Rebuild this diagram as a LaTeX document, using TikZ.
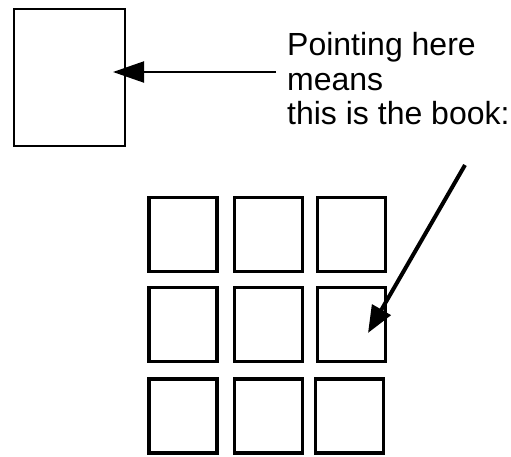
\documentclass[tikz,border=0pt]{standalone}
\usepackage{fontspec}
\setmainfont{Liberation Sans}
\usetikzlibrary{arrows.meta}
\begin{document}
\begin{tikzpicture}[x=1pt, y=-1pt,
  bookbox/.style={draw, line width=2.7pt, minimum width=111pt, minimum height=137pt,
    inner sep=0pt, outer sep=0pt},
  shelfbox/.style={draw, line width=3.2pt, minimum width=68pt, minimum height=74pt,
    inner sep=0pt, outer sep=0pt},
  notetext/.style={anchor=base west, inner sep=0pt,
    font=\fontsize{32}{34}\selectfont},
  pointer/.style={line width=2pt, -{Triangle[length=31pt, width=21pt]}},
  bigpointer/.style={line width=4pt, -{Triangle[length=27pt, width=21pt]}}]
  \useasboundingbox (0,0) rectangle (511,456);

  % the single book on its own
  \node[bookbox] (book) at (69.5,77.5) {};

  % three-by-three shelf of books
  \node[shelfbox] (s11) at (183,234.5) {};
  \node[shelfbox] (s12) at (268.5,234.5) {};
  \node[shelfbox] (s13) at (351.5,234.5) {};
  \node[shelfbox] (s21) at (183,324.5) {};
  \node[shelfbox] (s22) at (268.5,324.5) {};
  \node[shelfbox] (s23) at (351.5,324.5) {};
  \node[shelfbox] (s31) at (183,416) {};
  \node[shelfbox] (s32) at (268.5,416) {};
  \node[shelfbox] (s33) at (349.5,416) {};

  % explanatory text
  \node[notetext] (line1) at (287,55) {Pointing here};
  \node[notetext] (line2) at (287,90) {means};
  \node[notetext] (line3) at (287,124) {this is the book:};

  % pointers
  \coordinate (htail) at (276,72);
  \coordinate (htip) at (113,72);
  \draw[pointer] (htail) -- (htip);

  \coordinate (dtail) at (465,165);
  \coordinate (dtip) at (368,333);
  \draw[bigpointer] (dtail) -- (dtip);
\end{tikzpicture}
\end{document}
